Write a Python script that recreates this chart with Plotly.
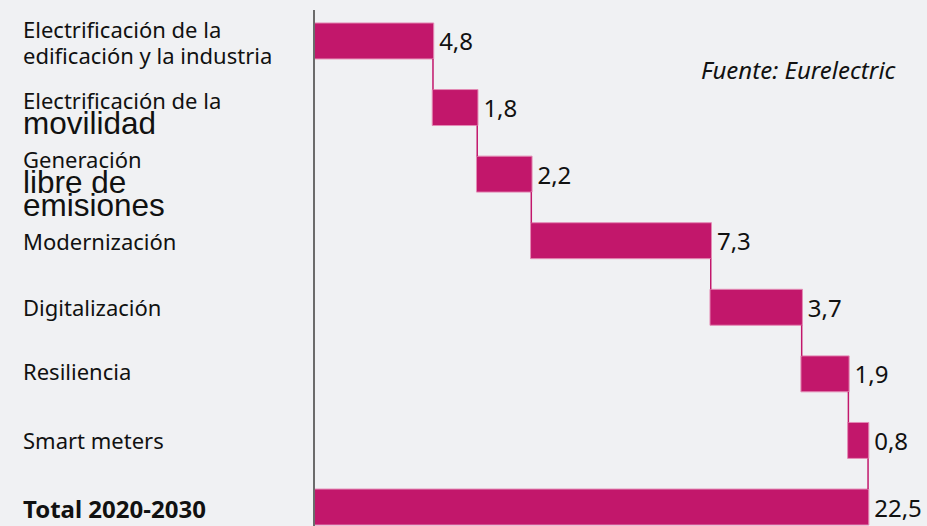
import plotly.graph_objects as go

# ---- data ----
categories = [
    "Electrificación de la edificación y la industria",
    "Electrificación de la movilidad",
    "Generación libre de emisiones",
    "Modernización",
    "Digitalización",
    "Resiliencia",
    "Smart meters",
    "Total 2020-2030",
]
values = [4.8, 1.8, 2.2, 7.3, 3.7, 1.9, 0.8, 22.5]
measures = ["relative"] * 7 + ["total"]
value_labels = [f"{v:.1f}".replace(".", ",") for v in values]

label_lines = [
    ["Electrificación de la", "edificación y la industria"],
    ["Electrificación de la", "movilidad"],
    ["Generación", "libre de", "emisiones"],
    ["Modernización"],
    ["Digitalización"],
    ["Resiliencia"],
    ["Smart meters"],
    ["<b>Total 2020-2030</b>"],
]
source_text = "<i>Fuente: Eurelectric</i>"

# ---- styles ----
BG = "#f0f1f3"
BAR = "#c2176b"
SMALL = dict(family="Noto Sans", size=22, color="#111111")
LARGE = dict(family="Liberation Sans", size=31.5, color="#111111")
BOLD = dict(family="Noto Sans", size=24, color="#111111")
# (font, vertical offset in px, positive = downward) per line
line_styles = [
    [(SMALL, -12), (SMALL, 14)],
    [(SMALL, -8), (LARGE, 15)],
    [(SMALL, -15), (LARGE, 8), (LARGE, 31)],
    [(SMALL, 0)],
    [(SMALL, 0)],
    [(SMALL, -3)],
    [(SMALL, 0)],
    [(BOLD, 1)],
]

W, H = 927, 526
ML, MR, MT, MB = 315, 0, 10, 0

fig = go.Figure(
    go.Waterfall(
        orientation="h",
        y=categories,
        x=values,
        measure=measures,
        text=value_labels,
        texttemplate="\u200a%{text}",
        textposition="outside",
        textfont=dict(family="Noto Sans", size=24, color="#111111"),
        increasing=dict(marker=dict(color=BAR, line=dict(color="#e38bb5", width=1))),
        totals=dict(marker=dict(color=BAR, line=dict(color="#e38bb5", width=1))),
        connector=dict(mode="between", line=dict(color=BAR, width=1.5)),
        cliponaxis=False,
        hoverinfo="skip",
    )
)

annotations = []
label_x = (21 - ML) / (W - ML - MR)
for cat, lines, styles in zip(categories, label_lines, line_styles):
    for txt, (font, off) in zip(lines, styles):
        annotations.append(
            dict(
                text=txt,
                xref="paper",
                yref="y",
                x=label_x,
                y=cat,
                xanchor="left",
                yanchor="middle",
                yshift=-off,
                showarrow=False,
                font=font,
                align="left",
            )
        )
annotations.append(
    dict(
        text=source_text,
        xref="paper",
        yref="paper",
        x=(899 - ML) / (W - ML - MR),
        y=1 - (69 - MT) / (H - MT - MB),
        xanchor="right",
        yanchor="middle",
        showarrow=False,
        font=dict(family="Noto Sans", size=24, color="#111111"),
    )
)

fig.update_layout(
    width=W,
    height=H,
    margin=dict(l=ML, r=MR, t=MT, b=MB, pad=0),
    paper_bgcolor=BG,
    plot_bgcolor=BG,
    showlegend=False,
    waterfallgap=0.46,
    annotations=annotations,
    xaxis=dict(
        range=[0, (W - ML - MR) / 24.58],
        visible=False,
        showgrid=False,
        zeroline=False,
    ),
    yaxis=dict(
        type="category",
        categoryorder="array",
        categoryarray=categories,
        range=[7.285, -0.465],
        showticklabels=False,
        ticks="",
        showgrid=False,
        zeroline=False,
        showline=True,
        linecolor="#6b6b6b",
        linewidth=2,
    ),
)

fig.write_html(
    "out.html",
    config={"displayModeBar": False},
    post_script="document.body.style.margin='0';document.body.style.overflow='hidden';document.body.style.background='" + BG + "';",
)
